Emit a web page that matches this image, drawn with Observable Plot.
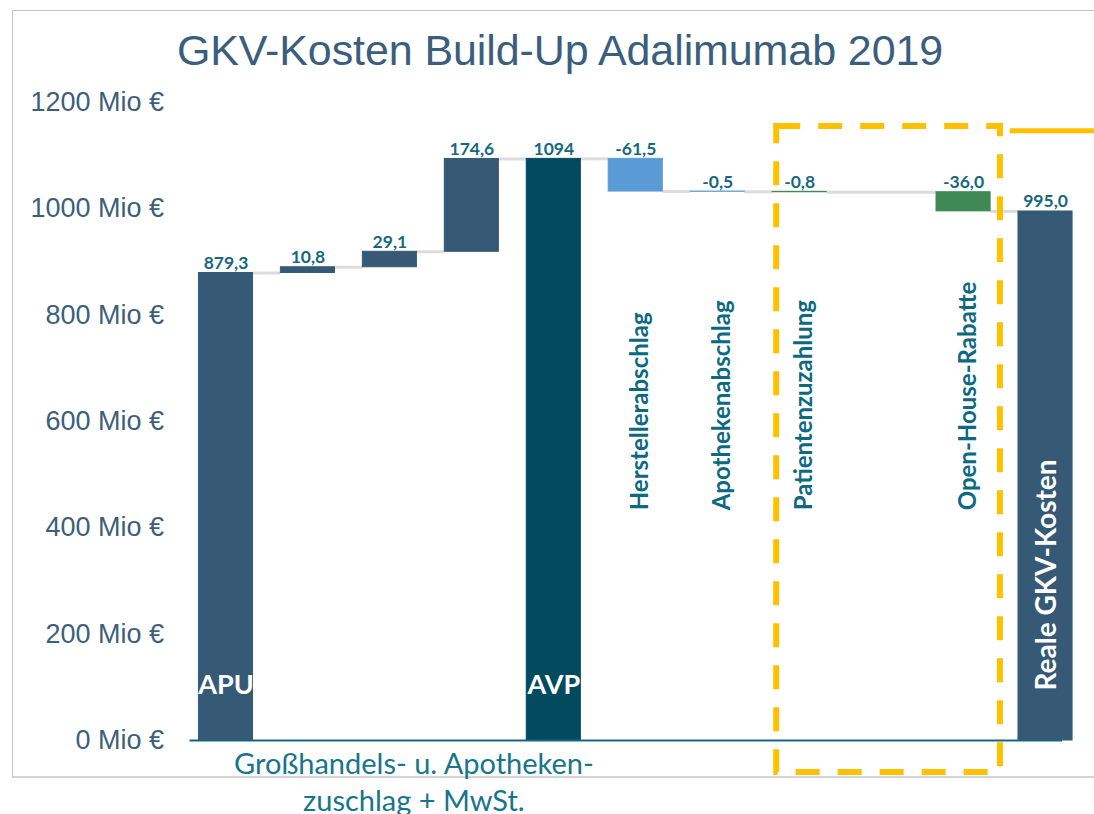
<!DOCTYPE html>
<html>
<head>
<meta charset="utf-8">
<script src="https://cdn.jsdelivr.net/npm/d3@7"></script>
<script src="https://cdn.jsdelivr.net/npm/@observablehq/plot@0.6"></script>
<style>
  html, body { margin: 0; padding: 0; background: #fff; }
  #wrap { position: relative; width: 1094px; height: 814px; overflow: hidden; }
  #frame { position: absolute; left: 12px; top: 10px; width: 1090px; height: 765px;
           border-left: 1px solid #c4c4c4; border-top: 1px solid #c4c4c4; border-bottom: 2px solid #d4d4d4; }
  #title { position: absolute; left: 0; top: 29px; width: 1120px; text-align: center;
           font-family: "Liberation Sans", Arial, sans-serif; font-size: 43px; line-height: 43px;
           color: #3b5e7d; letter-spacing: -0.1px; }
  #chart { position: absolute; left: 0; top: 0; }
</style>
</head>
<body>
<div id="wrap">
  <div id="frame"></div>
  <div id="title">GKV-Kosten Build-Up Adalimumab 2019</div>
  <div id="chart"></div>
</div>
<script>
// ---- data ----
const categories = ["APU", "Großhandelszuschlag fix", "Großhandelszuschlag variabel", "Apothekenzuschlag + MwSt.",
  "AVP", "Herstellerabschlag", "Apothekenabschlag", "Patientenzuzahlung", "", "Open-House-Rabatte", "Reale GKV-Kosten"];
const values = [879.3, 10.8, 29.1, 174.6, 1094, -61.5, -0.5, -0.8, null, -36.0, 995.0];
const kinds = ["total", "up", "up", "up", "avp", "hersteller", "hersteller", "rabatt", "gap", "rabatt", "total"];
const valueLabels = ["879,3", "10,8", "29,1", "174,6", "1094", "-61,5", "-0,5", "-0,8", "", "-36,0", "995,0"];
const rotatedLabels = ["Herstellerabschlag", "Apothekenabschlag", "Patientenzuzahlung", "Open-House-Rabatte"];
const inBarLabels = ["APU", "AVP"];
const inBarRotated = ["Reale GKV-Kosten"];
const groupLabel = "Großhandels- u. Apotheken-\nzuschlag + MwSt.";
const groupMembers = ["Großhandelszuschlag fix", "Großhandelszuschlag variabel", "Apothekenzuschlag + MwSt."];
const yTicks = [0, 200, 400, 600, 800, 1000, 1200];
const tickSuffix = " Mio €";
const highlightFrom = "Patientenzuzahlung";
const highlightTo = "Open-House-Rabatte";
const highlightNext = "Reale GKV-Kosten";

// ---- derived waterfall rows ----
const idx = name => categories.indexOf(name);
const rows = [];
let running = 0;
categories.forEach((c, i) => {
  const k = kinds[i];
  if (k === "gap") return;
  let y1, y2;
  if (k === "total" || k === "avp") { y1 = 0; y2 = values[i]; }
  else { y1 = running; y2 = running + values[i]; }
  running = y2;
  rows.push({i, name: c, kind: k, y1, y2, label: valueLabels[i]});
});
const hw = 0.33;
const links = [];
for (let r = 0; r < rows.length - 1; r++) {
  links.push({x1: rows[r].i + hw, x2: rows[r + 1].i - hw, y: rows[r].y2});
}
const groupX = d3.mean(groupMembers, idx);

const calibri = "Lato, 'Open Sans', sans-serif";
const teal = "#17687f";

const plot = Plot.plot({
  width: 1094,
  height: 814,
  marginLeft: 184.5,
  marginRight: 8,
  marginTop: 102,
  marginBottom: 74,
  style: {background: "transparent", overflow: "visible", fontFamily: "'Liberation Sans', Arial, sans-serif", fontSize: "27px", color: "#3d5f7b"},
  x: {domain: [-0.5, categories.length - 0.5], axis: null},
  y: {domain: [0, 1200], ticks: yTicks, tickFormat: d => d + tickSuffix, tickSize: 0, tickPadding: 21, label: null},
  color: {domain: ["total", "up", "avp", "hersteller", "rabatt"], range: ["#365a76", "#365a76", "#024b5f", "#5b9bd5", "#3e8853"]},
  marks: [
    Plot.ruleY(links, {y: "y", x1: "x1", x2: "x2", stroke: "#dcdcdc", strokeWidth: 3}),
    Plot.rect(rows, {x1: d => d.i - hw, x2: d => d.i + hw, y1: "y1", y2: "y2", fill: "kind", stroke: "kind", strokeWidth: 1}),
    Plot.ruleY([0], {stroke: teal, strokeWidth: 2, insetLeft: 5, insetRight: 24}),
    Plot.text(rows, {x: "i", y: d => Math.max(d.y1, d.y2), text: "label", lineAnchor: "bottom", dy: -4,
      fontFamily: calibri, fontWeight: "bold", fontSize: 17.5, fill: teal}),
    Plot.text(rows.filter(d => rotatedLabels.includes(d.name)), {x: "i", y: 433, text: "name", rotate: -90, textAnchor: "start", dx: 5,
      fontFamily: calibri, fontWeight: "bold", fontSize: 24, fill: "#0d6982"}),
    Plot.text(rows.filter(d => inBarLabels.includes(d.name)), {x: "i", y: 103, text: "name",
      fontFamily: calibri, fontWeight: "bold", fontSize: 27, fill: "white"}),
    Plot.text(rows.filter(d => inBarRotated.includes(d.name)), {x: "i", y: 94, text: "name", rotate: -90, textAnchor: "start", dx: 2,
      fontFamily: calibri, fontWeight: "bold", fontSize: 28, fill: "white"}),
    Plot.text([groupLabel], {x: groupX, y: -76, text: d => d, dx: 24, lineAnchor: "middle", lineHeight: 1.28,
      fontFamily: calibri, fontSize: 29, fill: "#17758c"}),
    Plot.rect([0], {x1: idx(highlightFrom) - 0.28, x2: idx(highlightTo) + 0.45, y1: -60, y2: 1155,
      fill: "none", stroke: "#ffc000", strokeWidth: 6, strokeDasharray: "24,18"}),
    Plot.ruleY([1147], {x1: idx(highlightNext) - 0.43, x2: categories.length, stroke: "#ffc000", strokeWidth: 5})
  ]
});
document.getElementById("chart").appendChild(plot);
</script>
</body>
</html>
